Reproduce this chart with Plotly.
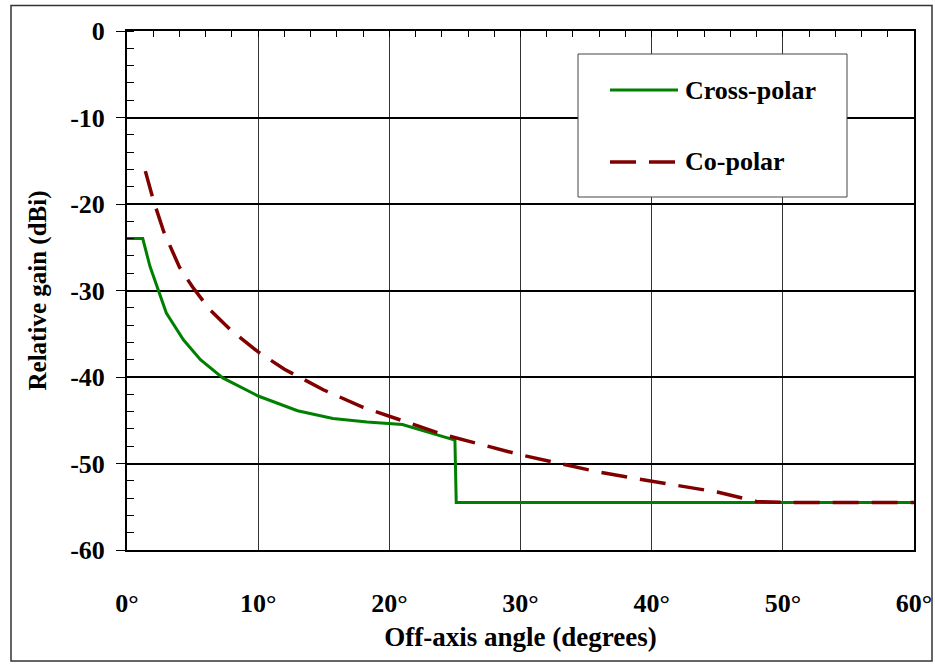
import plotly.graph_objects as go

# Cross-polar
cross_x = [0, 1.2, 1.75, 2.4, 3.0, 4.3, 5.6, 7.3, 10.0, 13.0, 15.7, 18.3, 20.0, 21.0, 23.0, 25.0, 25.1, 60.0]
cross_y = [-24.0, -24.0, -27.2, -30.1, -32.6, -35.7, -38.0, -40.1, -42.2, -43.9, -44.8, -45.2, -45.4, -45.5, -46.4, -47.3, -54.5, -54.5]

# Co-polar
co_x = [1.4, 2.0, 2.8, 4.0, 5.0, 6.3, 8.0, 10.0, 12.0, 15.0, 18.0, 21.0, 24.0, 27.0, 30.0, 33.0, 36.0, 39.0, 42.0, 45.0, 48.0, 50.0, 55.0, 60.0]
co_y = [-16.2, -19.5, -23.2, -27.3, -29.6, -32.2, -34.7, -37.1, -39.1, -41.5, -43.5, -45.1, -46.6, -47.8, -49.0, -50.0, -51.0, -51.8, -52.6, -53.3, -54.4, -54.5, -54.5, -54.5]

x_ticks = [0, 10, 20, 30, 40, 50, 60]
x_labels = ["0°", "10°", "20°", "30°", "40°", "50°", "60°"]
y_ticks = [0, -10, -20, -30, -40, -50, -60]
y_labels = ["0", "-10", "-20", "-30", "-40", "-50", "-60"]

GREEN = "#008000"
RED = "#800000"
FONT = "Times New Roman"

fig = go.Figure()
fig.add_trace(go.Scatter(x=cross_x, y=cross_y, mode="lines", name="Cross-polar",
                         line=dict(color=GREEN, width=3), showlegend=False))
fig.add_trace(go.Scatter(x=co_x, y=co_y, mode="lines", name="Co-polar",
                         line=dict(color=RED, width=3.5, dash="26px,13px"), showlegend=False))
# helper trace (invisible) for the top axis carrying the minor ticks
fig.add_trace(go.Scatter(x=[0, 60], y=[-60, -60], xaxis="x2", yaxis="y", mode="markers",
                         marker=dict(opacity=0, size=1), showlegend=False, hoverinfo="skip"))

fig.update_layout(
    width=935, height=668,
    margin=dict(l=127, r=21, t=31, b=118, autoexpand=False),
    paper_bgcolor="white", plot_bgcolor="white",
    font=dict(family=FONT, color="black"),
    showlegend=False,
    xaxis=dict(range=[0, 60], tickvals=x_ticks, ticktext=x_labels, automargin=False,
               showgrid=True, gridcolor="#333333", gridwidth=1,
               showline=True, linecolor="black", linewidth=2, mirror=True,
               ticks="", ticklabelstandoff=29, zeroline=False,
               tickfont=dict(family=FONT, size=26, color="black", weight="bold"),
               title=dict(text="<b>Off-axis angle (degrees)</b>", standoff=10,
                          font=dict(family=FONT, size=27, color="black"))),
    xaxis2=dict(range=[0, 60], overlaying="x", side="top", showticklabels=False,
                showgrid=False, ticks="inside", dtick=2, tick0=0, ticklen=6,
                tickcolor="black", tickwidth=1.3, zeroline=False, showline=False,
                automargin=False),
    yaxis=dict(range=[-60, 0], tickvals=y_ticks, ticktext=y_labels, automargin=False,
               showgrid=True, gridcolor="black", gridwidth=1.5,
               showline=True, linecolor="black", linewidth=2, mirror=True,
               ticks="outside", ticklen=9, tickcolor="black", tickwidth=1,
               ticklabelstandoff=6, zeroline=False,
               minor=dict(dtick=2, tick0=0, ticks="inside", ticklen=7, tickcolor="black", tickwidth=1.2),
               tickfont=dict(family=FONT, size=26, color="black", weight="bold"),
               title=dict(text="<b>Relative gain (dBi)</b>", standoff=16,
                          font=dict(family=FONT, size=25, color="black"))),
)

# Outer frame
fig.add_shape(type="rect", xref="paper", yref="paper",
              x0=(11 - 127) / 787, x1=(932 - 127) / 787,
              y0=(550 - 661) / 519, y1=1 + (31 - 5.5) / 519,
              line=dict(color="#333333", width=1.5), fillcolor="rgba(0,0,0,0)", layer="below")

# Legend box (manual)
def px_x(p):
    return (p - 127) / 787

def px_y(p):
    return (550 - p) / 519

fig.add_shape(type="rect", xref="paper", yref="paper",
              x0=px_x(578), x1=px_x(847), y0=px_y(197), y1=px_y(54),
              line=dict(color="#444444", width=1), fillcolor="white", layer="above")
fig.add_shape(type="line", xref="paper", yref="paper",
              x0=px_x(610), x1=px_x(678), y0=px_y(90), y1=px_y(90),
              line=dict(color=GREEN, width=3))
fig.add_shape(type="line", xref="paper", yref="paper",
              x0=px_x(610), x1=px_x(676), y0=px_y(162), y1=px_y(162),
              line=dict(color=RED, width=3.5, dash="26px,13px"))
fig.add_annotation(xref="paper", yref="paper", x=px_x(683), y=px_y(90),
                   text="<b>Cross-polar</b>", showarrow=False, xanchor="left", yanchor="middle",
                   font=dict(family=FONT, size=26, color="black"))
fig.add_annotation(xref="paper", yref="paper", x=px_x(683), y=px_y(162),
                   text="<b>Co-polar</b>", showarrow=False, xanchor="left", yanchor="middle",
                   font=dict(family=FONT, size=26, color="black"))

fig.write_html("out.html")
